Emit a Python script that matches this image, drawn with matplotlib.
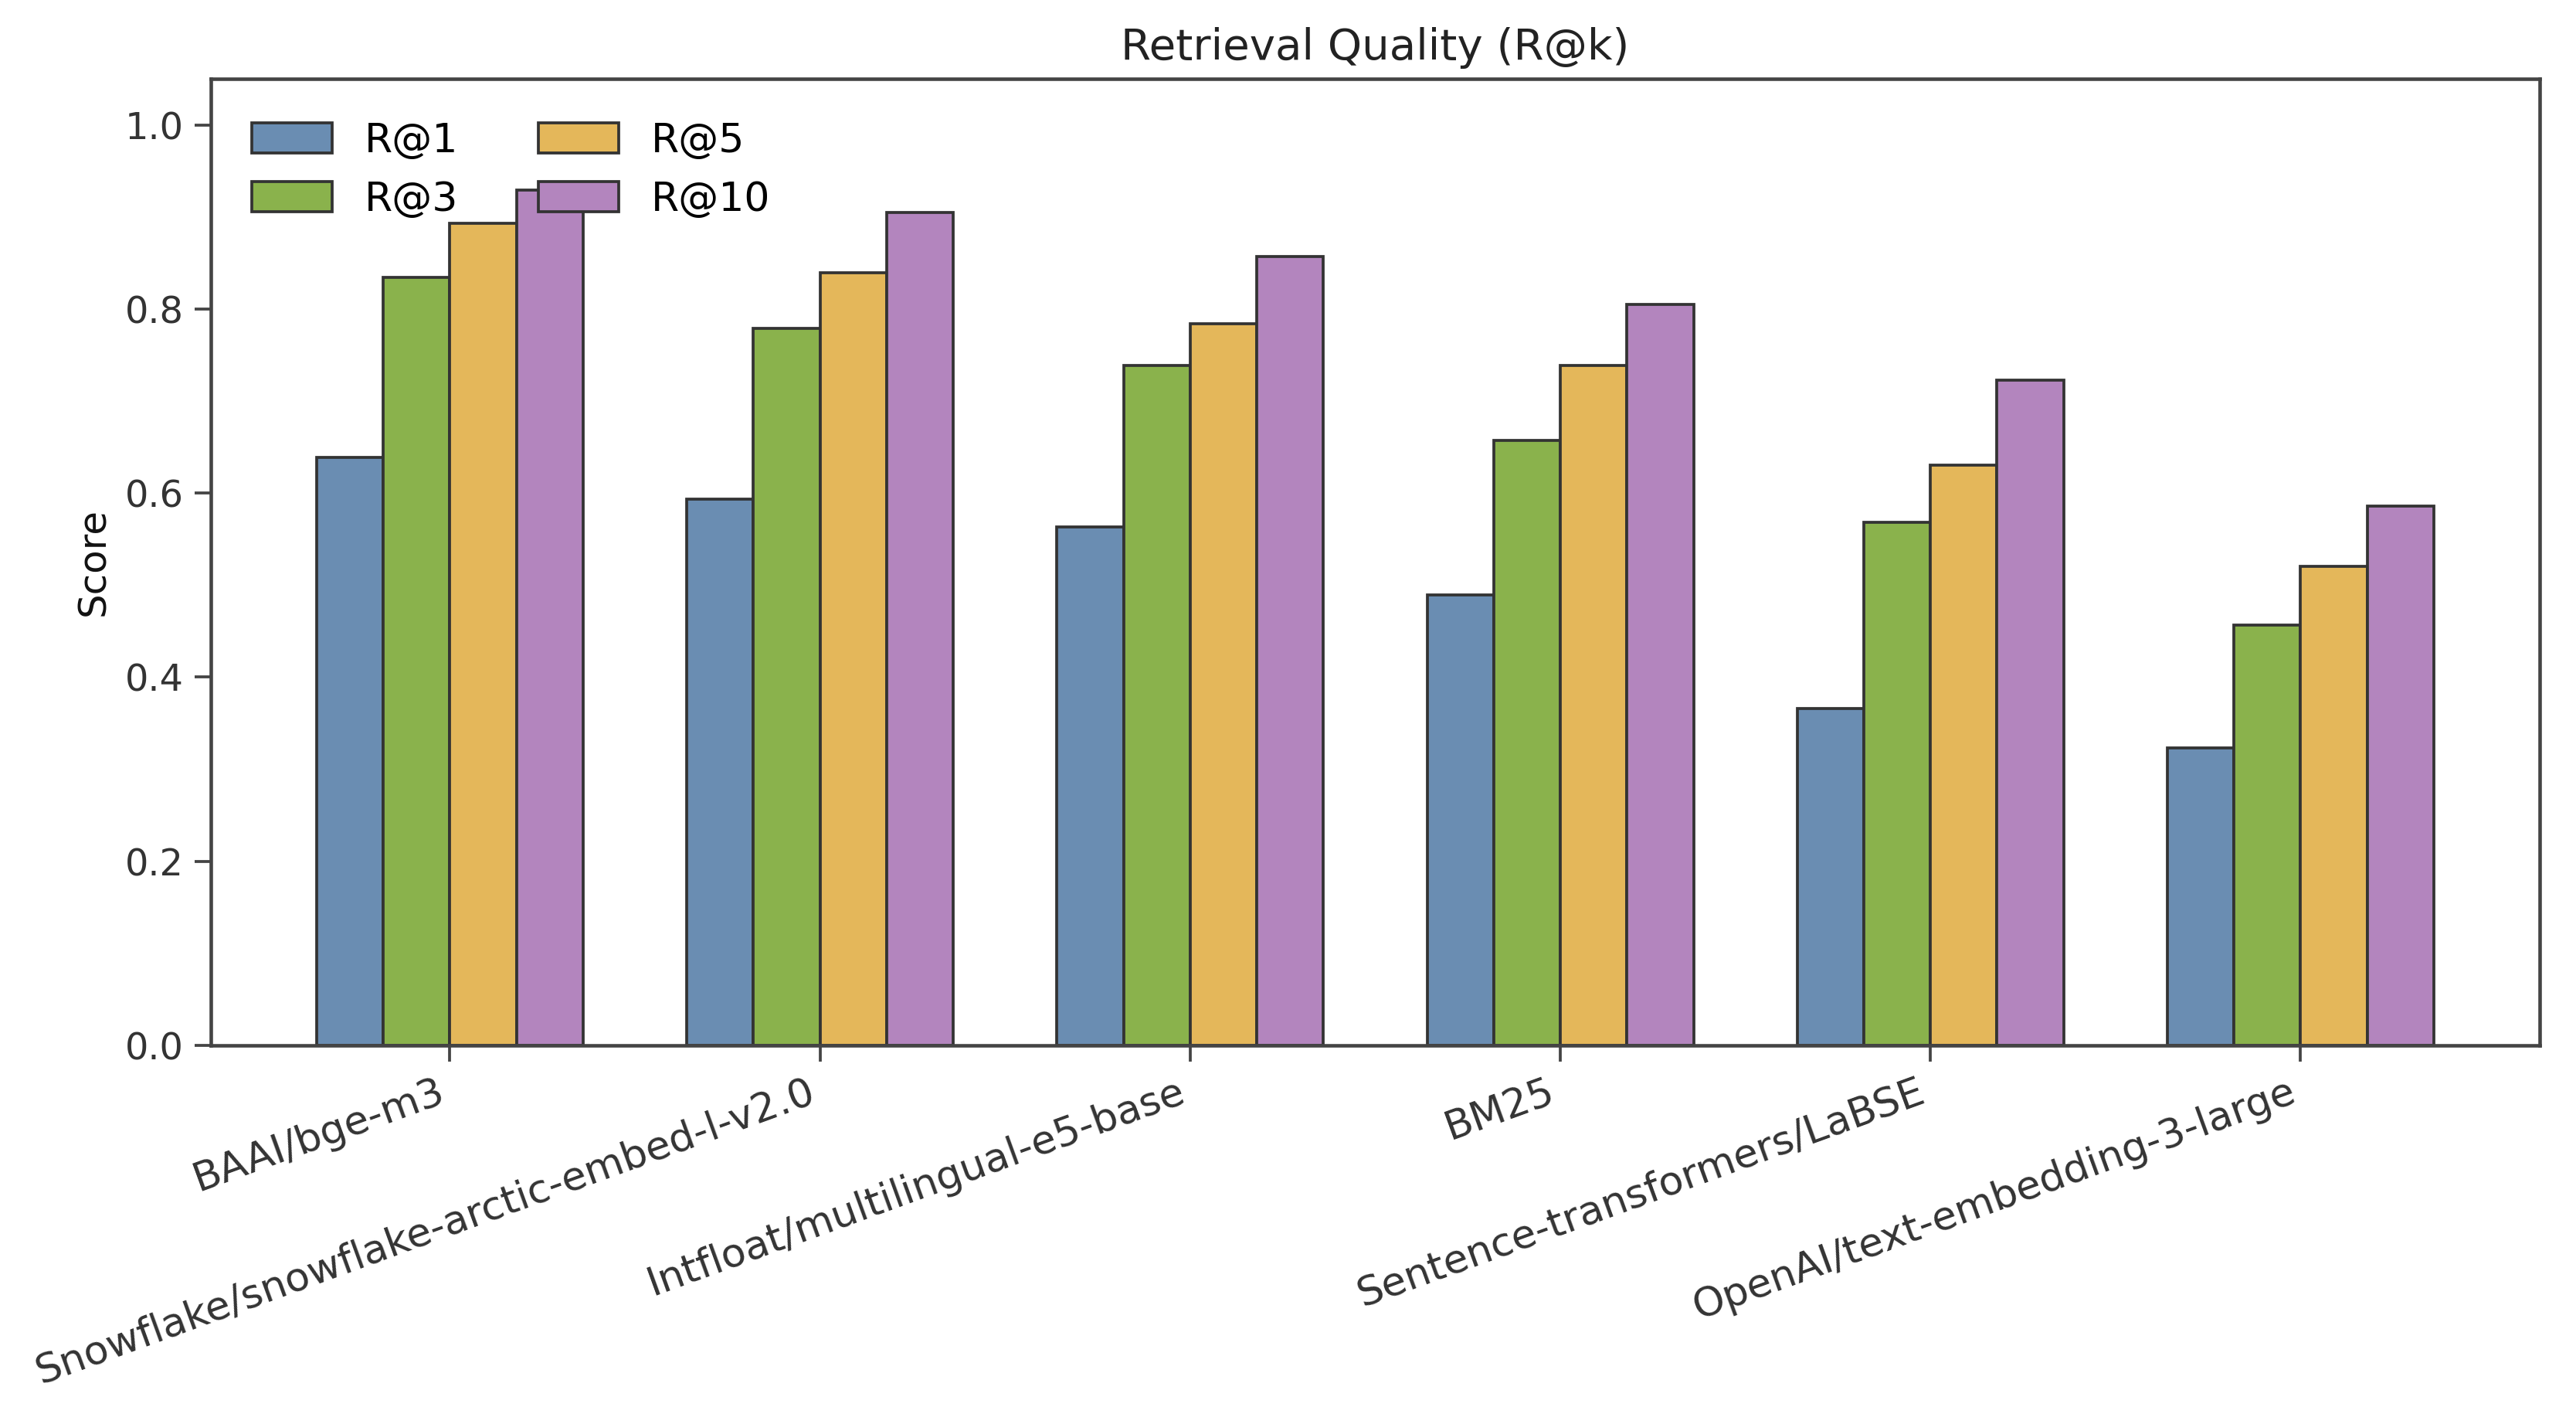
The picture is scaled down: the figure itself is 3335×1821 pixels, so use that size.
import matplotlib
matplotlib.use("Agg")
import matplotlib.pyplot as plt
import numpy as np

models = ["BAAI/bge-m3", "Snowflake/snowflake-arctic-embed-l-v2.0",
          "Intfloat/multilingual-e5-base", "BM25",
          "Sentence-transformers/LaBSE", "OpenAI/text-embedding-3-large"]
series_names = ["R@1", "R@3", "R@5", "R@10"]
r1 = [0.639, 0.593, 0.563, 0.489, 0.366, 0.323]
r3 = [0.834, 0.779, 0.739, 0.657, 0.568, 0.457]
r5 = [0.893, 0.839, 0.784, 0.739, 0.630, 0.520]
r10 = [0.929, 0.905, 0.857, 0.805, 0.723, 0.586]
series_values = [r1, r3, r5, r10]
colors = ["#6A8DB2", "#8AB24C", "#E4B75A", "#B385BE"]

fig = plt.figure(figsize=(11.12, 6.07), dpi=300)
ax = fig.add_axes([0.0818, 0.257, 0.9038, 0.687])

x = np.arange(len(models))
width = 0.18
for i, (name, vals) in enumerate(zip(series_names, series_values)):
    ax.bar(x + (i - 1.5) * width, vals, width, label=name, color=colors[i],
           edgecolor="#333333", linewidth=0.9)

ax.set_ylim(0, 1.05)
ax.set_xticks(x)
ax.set_xticklabels(models, rotation=20, ha="right", fontsize=12.5, color="#333333")
ax.tick_params(axis="y", labelsize=11.5, labelcolor="#333333")
ax.tick_params(color="#444444", width=0.9, length=5)
for s in ax.spines.values():
    s.set_color("#444444")
    s.set_linewidth(1.1)
ax.set_ylabel("Score", fontsize=12, color="#111111")
ax.set_title("Retrieval Quality (R@k)", fontsize=13.5, color="#222222")
ax.legend(loc="upper left", bbox_to_anchor=(0.002, 0.993), ncol=2,
          frameon=False, fontsize=12.5, handleheight=0.75)

fig.savefig("out.png", dpi=300)
